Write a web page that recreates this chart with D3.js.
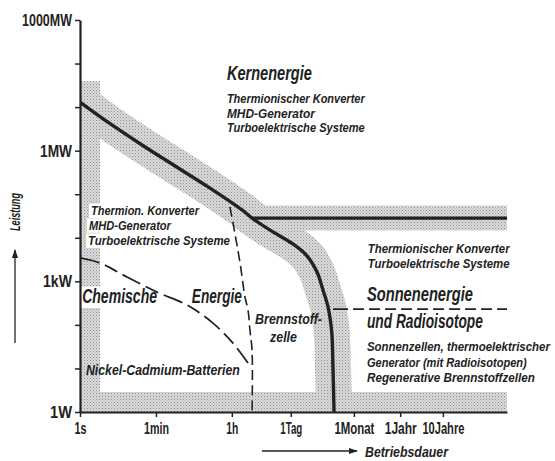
<!DOCTYPE html>
<html><head><meta charset="utf-8">
<script src="https://cdn.jsdelivr.net/npm/d3@7"></script>
<style>
body{margin:0;background:#fff;}
svg text{font-family:"Liberation Sans","Roboto",sans-serif;fill:#222;}
</style></head>
<body><svg id="c" width="555" height="461"></svg>
<script>
// ---- data (duration in seconds, power in watts) ----
const powerTicks = [1,1e1,1e2,1e3,1e4,1e5,1e6,1e7,1e8,1e9];
const powerTickLabels = ["1W","","","1kW","","","1MW","","","1000MW"];
const durationTicks = [1,60,3600,86400,2592000,31536000,315360000];
const durationTickLabels = ["1s","1min","1h","1Tag","1Monat","1Jahr","10Jahre"];

// main boundary (nuclear limit)
const mainDuration = [1,4.5,28.3,168,1000,6220,10700,28200,97000,209000,355000,490000,645000,790000,840000,890000];
const mainPower    = [1.3e7,4.5e6,1.35e6,4.45e5,1.47e5,4.35e4,2.83e4,1.5e4,7200,3800,1630,631,257,65,10.7,1];
// horizontal nuclear/radioisotope boundary
const nuclearDuration = [10700,1e10];
const nuclearPower    = [2.83e4,2.83e4];
// solar / radioisotope boundary (dashed)
const solarDuration = [845000,1e10];
const solarPower    = [230,230];
// chemical energy limit (dashed, near vertical)
const chemLimitDuration = [3240,3830,5600,7300,8600,9550,10700,10700];
const chemLimitPower    = [5.1e4,2.19e4,2630,437,219,76,26,1];
// nickel-cadmium batteries (dashed)
const nicdDuration = [1,2.94,12.6,63.5,322,1300,3830,8600];
const nicdPower    = [3450,2630,1260,565,286,110,38,13.3];

// annotations: [text, log10(duration), log10(power)]
const annotations = [
  ["Kernenergie",3.44,7.62],
  ["Thermionischer Konverter",3.44,7.09],
  ["MHD-Generator",3.44,6.76],
  ["Turboelektrische Systeme",3.44,6.42],
  ["Thermion. Konverter",0.26,4.53],
  ["MHD-Generator",0.21,4.19],
  ["Turboelektrische Systeme",0.19,3.84],
  ["Chemische",0.05,2.50],
  ["Energie",2.62,2.50],
  ["Nickel-Cadmium-Batterien",0.14,0.85],
  ["Brennstoff-",4.10,2.02],
  ["zelle",4.45,1.61],
  ["Thermionischer Konverter",6.74,3.66],
  ["Turboelektrische Systeme",6.74,3.31],
  ["Sonnenenergie",6.72,2.55],
  ["und Radioisotope",6.72,1.93],
  ["Sonnenzellen, thermoelektrischer",6.72,1.39],
  ["Generator (mit Radioisotopen)",6.72,1.03],
  ["Regenerative Brennstoffzellen",6.72,0.68]
];
// styling of the annotations: [font size, text width, white background]
const annotationStyle = [
  [19.5,85,0],[13,138,0],[13,88,0],[13,138,0],
  [13,108,1],[13,82,1],[13,142,1],
  [19.5,75,1],[19.5,50,0],[14.5,154,0],[15,67,0],[15,27,0],
  [13,142,0],[13,142,0],[19.5,106,0],[19.5,116,0],
  [13,183,0],[13,160,0],[13,168,0]
];
const yTickWidths = [22,0,0,29,0,0,32,0,0,50];
const xTickWidths = [12,25,12,22,40,32,42];

// ---- layout ----
const svg = d3.select("#c");
const x = d3.scaleLog().domain([1,1e10]).range([80,507]);
const y = d3.scaleLog().domain([1,1e9]).range([412,20]);
const ink = "#222";

// condense a text horizontally to a given width, keeping its anchor point
function condense(sel, w, anchorX, anchorY, extra){
  const n = sel.node();
  const nat = n.getComputedTextLength();
  const s = Math.min(1, w / nat);
  sel.attr("x",0).attr("y",0)
     .attr("transform",`translate(${anchorX},${anchorY})${extra||""} scale(${s},1)`);
}

const defs = svg.append("defs");
const pat = defs.append("pattern").attr("id","stip").attr("patternUnits","userSpaceOnUse")
  .attr("width",3).attr("height",3);
pat.append("rect").attr("width",3).attr("height",3).attr("fill","#dadada");
pat.append("rect").attr("x",0).attr("y",0).attr("width",1).attr("height",1).attr("fill","#909090");
pat.append("rect").attr("x",1.5).attr("y",1.5).attr("width",1).attr("height",1).attr("fill","#aaaaaa");
defs.append("clipPath").attr("id","plot").append("rect")
  .attr("x",80).attr("y",20).attr("width",427).attr("height",392);

const zip = (a,b)=>a.map((v,i)=>[v,b[i]]);
const line = d3.line().x(d=>x(d[0])).y(d=>y(d[1]));
const curved = d3.line().x(d=>x(d[0])).y(d=>y(d[1])).curve(d3.curveCatmullRom.alpha(0.5));

const shade = svg.append("g").attr("clip-path","url(#plot)");
// bottom and left strips
shade.append("rect").attr("x",x(1)).attr("y",y(1)-20).attr("width",x(1e10)-x(1)).attr("height",20).attr("fill","url(#stip)");
shade.append("rect").attr("x",x(1)).attr("y",y(mainPower[0])-21).attr("width",20).attr("height",y(1)-y(mainPower[0])+21).attr("fill","url(#stip)");
// bands along boundaries
const mainPts = zip(mainDuration,mainPower);
const ext = [[mainDuration[0]/3, mainPower[0]*1.7]].concat(mainPts).concat([[mainDuration[mainDuration.length-1],0.3]]);
shade.append("path").attr("d",curved(ext)).attr("fill","none").attr("stroke","url(#stip)").attr("stroke-width",36).attr("stroke-linejoin","round");
shade.append("path").attr("d",line(zip(nuclearDuration,nuclearPower))).attr("fill","none").attr("stroke","url(#stip)").attr("stroke-width",25);

// labels (white backgrounds where they sit on the shading)
const bgLayer = svg.append("g");
const textLayer = svg.append("g");
annotations.forEach(([t,lx,ly],i)=>{
  const [size,w,bg] = annotationStyle[i];
  const ax = x(10**lx), ay = y(10**ly);
  const tx = textLayer.append("text")
    .attr("font-size",size).attr("font-style","italic").attr("font-weight","bold").text(t);
  condense(tx, w, ax, ay);
  if(bg){
    bgLayer.append("rect").attr("x",ax-2).attr("y",ay-size*0.85).attr("width",w+4).attr("height",size*1.1).attr("fill","#fff");
  }
});

// lines
const lines = svg.append("g").attr("clip-path","url(#plot)");
lines.append("path").attr("d",curved(mainPts)).attr("fill","none").attr("stroke",ink).attr("stroke-width",3.4);
lines.append("path").attr("d",line(zip(nuclearDuration,nuclearPower))).attr("fill","none").attr("stroke",ink).attr("stroke-width",3.4);
lines.append("path").attr("d",line(zip(solarDuration,solarPower))).attr("fill","none").attr("stroke",ink).attr("stroke-width",1.8)
  .attr("stroke-dasharray","15,5,11,5,11,5,11,5,11,5,11,5,11,5,11,5,11,5,11,5,11,5,11,5,11,5,11,5,11,5");
lines.append("path").attr("d",curved(zip(chemLimitDuration,chemLimitPower))).attr("fill","none").attr("stroke",ink).attr("stroke-width",1.6).attr("stroke-dasharray","10,5");
lines.append("path").attr("d",curved(zip(nicdDuration,nicdPower))).attr("fill","none").attr("stroke",ink).attr("stroke-width",1.8).attr("stroke-dasharray","20,6,14,6");

// axes
const yAxis = d3.axisLeft(y).tickValues(powerTicks).tickFormat((d,i)=>powerTickLabels[i]).tickSize(5).tickSizeOuter(0).tickPadding(3);
const xAxis = d3.axisBottom(x).tickValues(durationTicks).tickFormat((d,i)=>durationTickLabels[i]).tickSize(5).tickSizeOuter(0).tickPadding(4);
const gy = svg.append("g").attr("transform",`translate(${x(1)},0)`).call(yAxis);
const gx = svg.append("g").attr("transform",`translate(0,${y(1)})`).call(xAxis);
[gx,gy].forEach(g=>{
  g.select(".domain").attr("stroke",ink).attr("stroke-width",2.2);
  g.selectAll(".tick line").attr("stroke",ink).attr("stroke-width",1.5);
  g.selectAll(".tick text").attr("font-size",16).attr("fill",ink).attr("font-weight","bold")
    .style("font-family",'"Liberation Sans",sans-serif');
});
gy.selectAll(".tick text").each(function(d,i){
  if(!yTickWidths[i]) return;
  const t = d3.select(this);
  const ax = +t.attr("x");
  t.attr("dy",null);
  condense(t, yTickWidths[i], ax, 0, ` translate(0,5.5)`);
});
gx.selectAll(".tick text").each(function(d,i){
  const t = d3.select(this);
  t.attr("dy",null);
  condense(t, xTickWidths[i], 0, 22);
});

// axis titles with arrows
defs.append("marker").attr("id","arr").attr("viewBox","0 0 10 10").attr("refX",9).attr("refY",5)
  .attr("markerWidth",7).attr("markerHeight",7).attr("orient","auto")
  .append("path").attr("d","M0,1.5 L10,5 L0,8.5 Z").attr("fill",ink);
svg.append("line").attr("x1",15).attr("x2",15).attr("y1",343).attr("y2",250).attr("stroke",ink).attr("stroke-width",1.3).attr("marker-end","url(#arr)");
const lt = svg.append("text").attr("text-anchor","middle")
  .attr("font-size",15).attr("font-style","italic").attr("font-weight","bold").text("Leistung");
condense(lt, 38, 20, 212, " rotate(-90)");
svg.append("line").attr("x1",262).attr("x2",357).attr("y1",451).attr("y2",451).attr("stroke",ink).attr("stroke-width",1.3).attr("marker-end","url(#arr)");
const bt = svg.append("text").attr("font-size",15.5).attr("font-style","italic").attr("font-weight","bold").text("Betriebsdauer");
condense(bt, 83, 365, 457);
</script></body></html>
